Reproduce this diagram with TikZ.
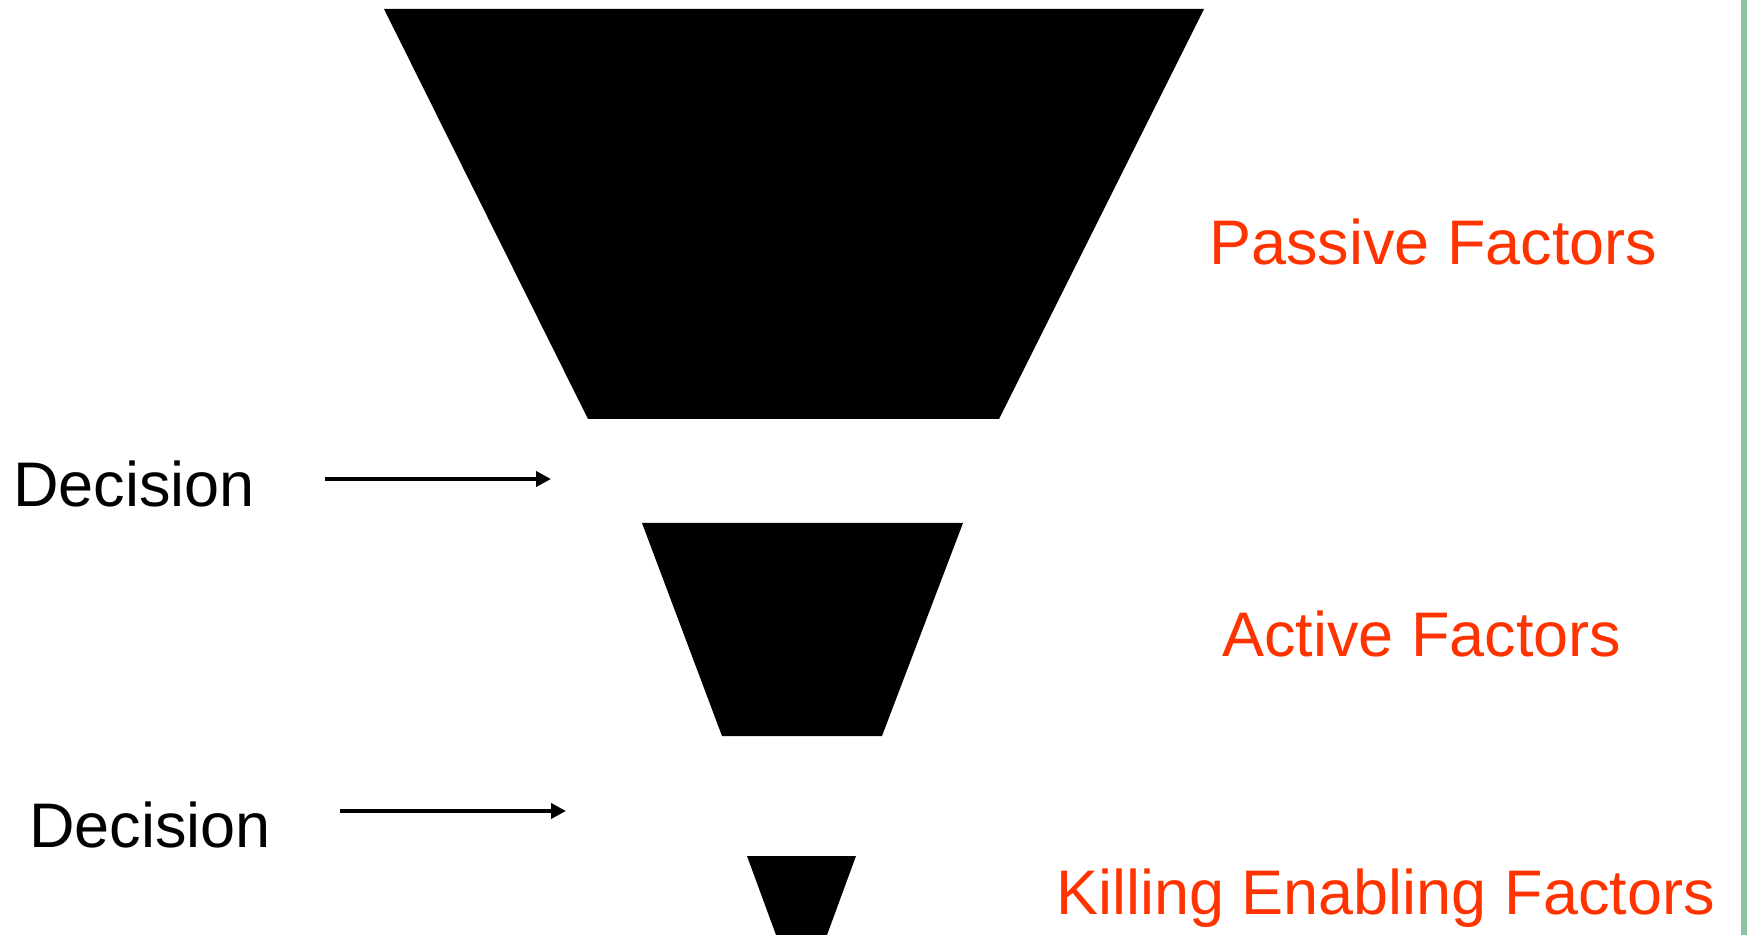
\documentclass[tikz,border=0pt]{standalone}
\usepackage{fontspec}
\setmainfont{Liberation Sans}
\usepackage{tikz}
\usetikzlibrary{arrows.meta}

\definecolor{factorred}{RGB}{255,51,0}
\definecolor{edgegreen}{RGB}{140,195,160}

\begin{document}
\begin{tikzpicture}[x=0.5pt,y=-0.5pt]
        \tikzstyle{funnel} = [fill=black]
        \tikzstyle{factor} = [anchor=base west,inner sep=0pt,text=factorred,font=\fontsize{31.5pt}{36pt}\selectfont]
        \tikzstyle{label} = [anchor=base west,inner sep=0pt,font=\fontsize{31.5pt}{36pt}\selectfont]
        \tikzstyle{decide} = [line width=2pt,-{Triangle[length=7.5pt,width=7.5pt]}]
        \useasboundingbox (0,0) rectangle (1747,935);

        % funnel pieces
        \fill[funnel] (384,9) -- (1204,9) -- (999,419) -- (588,419) -- cycle;
        \fill[funnel] (642,523) -- (963,523) -- (882,736) -- (722,736) -- cycle;
        \fill[funnel] (747,856) -- (856,856) -- (827,935) -- (776,935) -- cycle;

        \foreach \l/\x/\y/\t in {pf/1209/265/Passive Factors, af/1222/657/Active Factors,
          kf/1056/914/Killing Enabling Factors} {
          \node[factor] (\l) at (\x,\y) {\t};
        }
        \foreach \l/\x/\y in {dec1/13/507, dec2/29/847} {
          \node[label] (\l) at (\x,\y) {Decision};
        }

        \coordinate (s1) at (325,479);
        \coordinate (e1) at (551,479);
        \coordinate (s2) at (340,811);
        \coordinate (e2) at (566,811);
        \draw[decide] (s1) -- (e1);
        \draw[decide] (s2) -- (e2);

        % window edge
        \fill[edgegreen] (1741,0) rectangle (1747,935);
\end{tikzpicture}
\end{document}
